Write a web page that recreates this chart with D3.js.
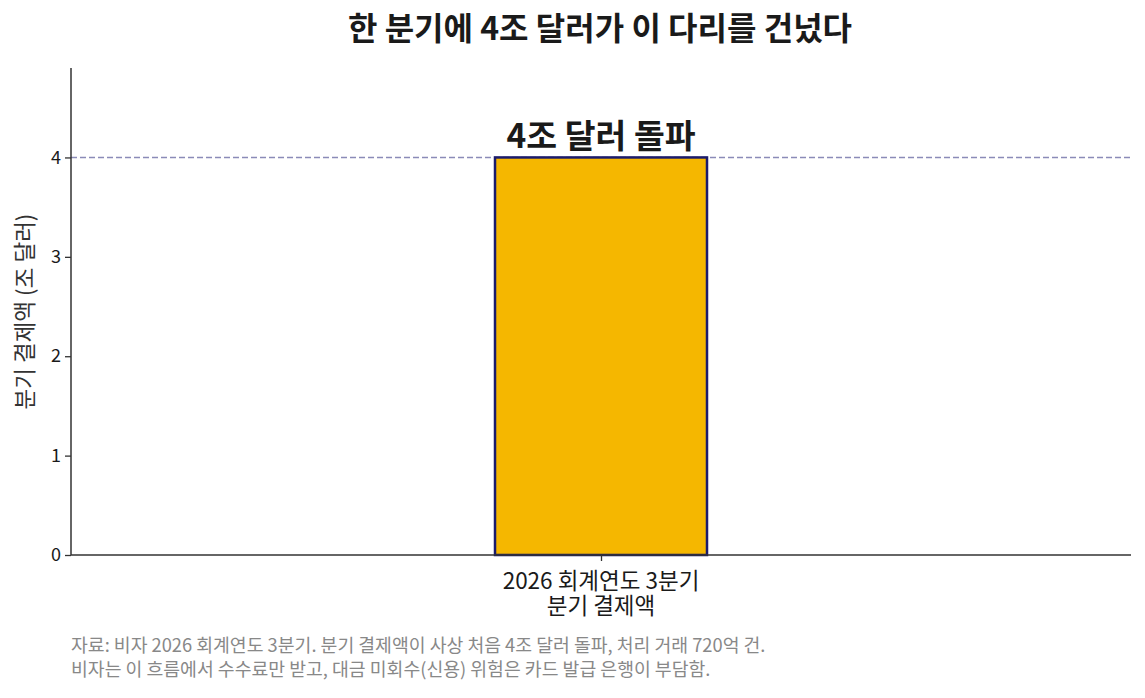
<!DOCTYPE html>
<html><head><meta charset="utf-8">
<script src="https://cdn.jsdelivr.net/npm/d3@7"></script>
<style>
body{margin:0;background:#fff;}
text{font-family:"Noto Sans CJK KR","Noto Sans",sans-serif;}
</style></head>
<body><svg id="c" width="1145" height="698"></svg>
<script>
const categories = ["2026 회계연도 3분기|분기 결제액"];
const values = [4.0];
const yTicks = [0,1,2,3,4];
const refValue = 4.0;
const title = "한 분기에 4조 달러가 이 다리를 건넜다";
const annotation = "4조 달러 돌파";
const yLabel = "분기 결제액 (조 달러)";
const notes = ["자료: 비자 2026 회계연도 3분기. 분기 결제액이 사상 처음 4조 달러 돌파, 처리 거래 720억 건.",
"비자는 이 흐름에서 수수료만 받고, 대금 미회수(신용) 위험은 카드 발급 은행이 부담함."];

const svg = d3.select("#c");
const m = {l:71, r:1131, t:68, b:555};
const y = d3.scaleLinear().domain([0,4.9]).range([m.b,m.t]);
const x = d3.scaleLinear().domain([-1,1]).range([m.l,m.r]);
const barW = 0.4;

svg.append("line").attr("x1",m.l).attr("x2",m.r).attr("y1",y(refValue)).attr("y2",y(refValue))
  .attr("stroke","#8b8bb8").attr("stroke-width",1.5).attr("stroke-dasharray","6,3");

svg.selectAll("rect.bar").data(values).enter().append("rect")
  .attr("x",(d,i)=>x(i-barW/2)).attr("width",x(barW)-x(0))
  .attr("y",d=>y(d)).attr("height",d=>y(0)-y(d))
  .attr("fill","#F5B700").attr("stroke","#1b1b6b").attr("stroke-width",2.5);

svg.append("text").attr("x",x(0)).attr("y",y(values[0])-9).attr("text-anchor","middle")
  .attr("font-size",33.5).attr("font-weight",700).attr("fill","#1a1a1a").text(annotation);

const ya = svg.append("g").attr("transform",`translate(${m.l},0)`)
  .call(d3.axisLeft(y).tickValues(yTicks).tickSize(6).tickPadding(4).tickFormat(d3.format("d")));
ya.select(".domain").attr("stroke","#333").attr("stroke-width",1.5).attr("d",`M-0,${m.b}V${m.t}`);
ya.selectAll(".tick line").attr("stroke","#333").attr("stroke-width",1.3);
ya.selectAll(".tick text").attr("font-size",18).attr("fill","#1a1a1a").style("font-family","'Noto Sans CJK KR',sans-serif");

const xa = svg.append("g").attr("transform",`translate(0,${m.b})`)
  .call(d3.axisBottom(x).tickValues(categories.map((c,i)=>i)).tickSize(6).tickFormat(""));
xa.select(".domain").attr("stroke","#333").attr("stroke-width",1.5).attr("d",`M${m.l},0H${m.r}`);
xa.selectAll(".tick line").attr("stroke","#333").attr("stroke-width",1.3);
categories.forEach((c,i)=>{
  const t = svg.append("text").attr("x",x(i)).attr("text-anchor","middle").attr("font-size",22.5).attr("fill","#1a1a1a");
  c.split("|").forEach((s,k)=>t.append("tspan").attr("x",x(i)).attr("y",589+k*25).text(s));
});

svg.append("text").attr("transform",`translate(33,${(m.t+m.b)/2}) rotate(-90)`).attr("text-anchor","middle")
  .attr("font-size",22.5).attr("fill","#333").text(yLabel);

svg.append("text").attr("x",600).attr("y",40).attr("text-anchor","middle")
  .attr("font-size",32).attr("font-weight",700).attr("fill","#1a1a1a").text(title);

notes.forEach((n,i)=>svg.append("text").attr("x",71).attr("y",652+i*24).attr("font-size",18.3).attr("fill","#888").text(n));
</script></body></html>
